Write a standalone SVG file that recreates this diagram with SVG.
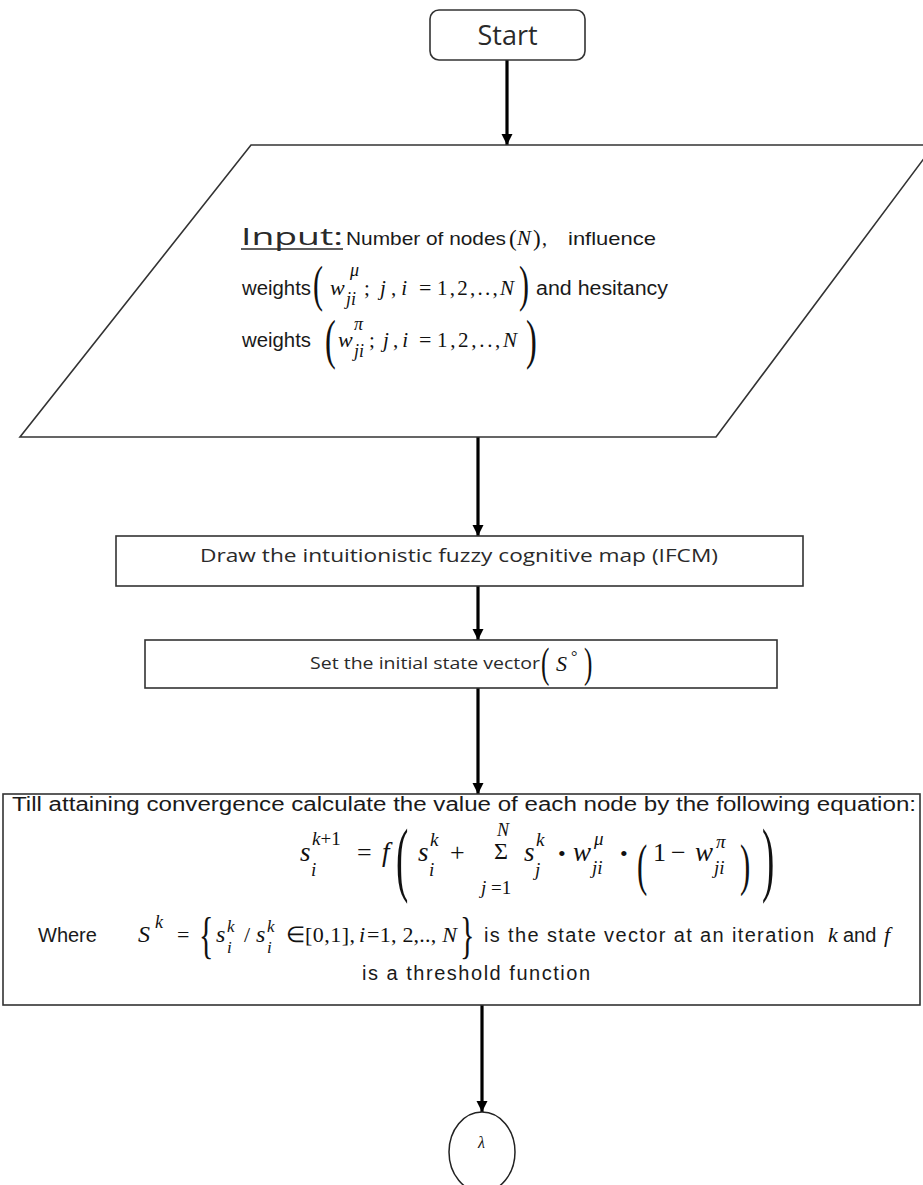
<svg xmlns="http://www.w3.org/2000/svg" width="923" height="1185" viewBox="0 0 923 1185">
<defs>
<style>
.box{fill:#fff;stroke:#333;stroke-width:1.6}
.t{font-family:"Liberation Sans",Arial,sans-serif;fill:#1a1a1a}
.c{font-family:"Open Sans","Liberation Sans",sans-serif;fill:#2a2a2a}
.m{font-family:"Liberation Serif","Times New Roman",serif;font-style:italic;fill:#111}
.r{font-family:"Liberation Serif","Times New Roman",serif;fill:#111}
.conn line{stroke:#000;stroke-width:3.2}
</style>
<marker id="ah" viewBox="0 0 10 10" refX="10" refY="5" markerWidth="11" markerHeight="13" markerUnits="userSpaceOnUse" orient="auto">
<path d="M0,0 L10,5 L0,10 z" fill="#000"/>
</marker>
</defs>
<rect width="923" height="1185" fill="#fff"/>

<g id="connectors" class="conn">
<line x1="507" y1="60" x2="507" y2="145" marker-end="url(#ah)"/>
<line x1="478" y1="437" x2="478" y2="536" marker-end="url(#ah)"/>
<line x1="478" y1="586" x2="478" y2="640" marker-end="url(#ah)"/>
<line x1="478" y1="688" x2="478" y2="794" marker-end="url(#ah)"/>
<line x1="482" y1="1005" x2="482" y2="1112" marker-end="url(#ah)"/>
</g>

<g id="start">
<rect class="box" x="430" y="10" width="155" height="50" rx="9"/>
<text class="c" x="507.5" y="45" font-size="27" text-anchor="middle">Start</text>
</g>

<g id="input">
<polygon class="box" points="251,145 934,145 716,437 20,437"/>
<text class="c" x="241" y="245" font-size="24" textLength="102" lengthAdjust="spacingAndGlyphs">Input:</text>
<line x1="241" y1="249" x2="343" y2="249" stroke="#2a2a2a" stroke-width="1.5"/>
<text class="t" x="346" y="245" font-size="19" textLength="160" lengthAdjust="spacingAndGlyphs">Number of nodes</text>
<text class="r" x="509" y="246" font-size="23">(</text>
<text class="m" x="517" y="245" font-size="21">N</text>
<text class="r" x="533" y="246" font-size="23">)</text>
<text class="r" x="542" y="245" font-size="20">,</text>
<text class="t" x="568" y="245" font-size="19" textLength="88" lengthAdjust="spacingAndGlyphs">influence</text>

<text class="t" x="242" y="295" font-size="20" textLength="69" lengthAdjust="spacingAndGlyphs">weights</text>
<text class="r" font-size="50" transform="translate(313,301) scale(0.6,1)">(</text>
<text class="m" x="330" y="295" font-size="22">w</text>
<text class="m" x="350" y="276" font-size="18">μ</text>
<text class="m" x="346" y="305" font-size="18">ji</text>
<text class="r" x="364" y="295" font-size="21">;</text>
<text class="m" x="380" y="295" font-size="21" textLength="27" lengthAdjust="spacing">j<tspan class="r" font-style="normal">,</tspan>i</text>
<text class="r" x="419" y="295" font-size="22">=</text>
<text class="r" x="437" y="295" font-size="21" textLength="77" lengthAdjust="spacing">1,2,..,<tspan class="m">N</tspan></text>
<text class="r" font-size="50" transform="translate(519,301) scale(0.6,1)">)</text>
<text class="t" x="536" y="295" font-size="20" textLength="132" lengthAdjust="spacingAndGlyphs">and hesitancy</text>

<text class="t" x="242" y="347" font-size="20" textLength="69" lengthAdjust="spacingAndGlyphs">weights</text>
<text class="r" font-size="54" transform="translate(325,358) scale(0.6,1)">(</text>
<text class="m" x="338" y="347" font-size="22">w</text>
<text class="m" x="354" y="330" font-size="18">π</text>
<text class="m" x="354" y="357" font-size="18">ji</text>
<text class="r" x="369" y="347" font-size="21">;</text>
<text class="m" x="383" y="347" font-size="21" textLength="25" lengthAdjust="spacing">j<tspan class="r" font-style="normal">,</tspan>i</text>
<text class="r" x="419" y="347" font-size="22">=</text>
<text class="r" x="437" y="347" font-size="21" textLength="80" lengthAdjust="spacing">1,2,..,<tspan class="m">N</tspan></text>
<text class="r" font-size="54" transform="translate(526,358) scale(0.6,1)">)</text>
</g>

<g id="draw">
<rect class="box" x="116" y="536" width="687" height="50"/>
<text class="c" x="200" y="562" font-size="18" textLength="518" lengthAdjust="spacingAndGlyphs">Draw the intuitionistic fuzzy cognitive map (IFCM)</text>
</g>

<g id="set">
<rect class="box" x="145" y="640" width="632" height="48"/>
<text class="c" x="310" y="669" font-size="17" textLength="230" lengthAdjust="spacingAndGlyphs">Set the initial state vector</text>
<text class="r" font-size="42" transform="translate(541,677) scale(0.6,1)">(</text>
<text class="m" x="556" y="671" font-size="22">S</text>
<text class="r" x="571" y="662" font-size="16">°</text>
<text class="r" font-size="42" transform="translate(584,677) scale(0.6,1)">)</text>
</g>

<g id="iterate">
<rect class="box" x="3" y="794" width="917" height="211"/>
<text class="t" x="12" y="811" font-size="20" textLength="904" lengthAdjust="spacingAndGlyphs">Till attaining convergence calculate the value of each node by the following equation:</text>

<text class="m" x="300" y="861" font-size="27">s</text>
<text class="m" x="312" y="845" font-size="19">k<tspan class="r" font-style="normal">+1</tspan></text>
<text class="m" x="311" y="876" font-size="19">i</text>
<text class="r" x="357" y="861" font-size="26">=</text>
<text class="m" x="382" y="861" font-size="27">f</text>
<text class="r" font-size="82" transform="translate(396,886) scale(0.45,1)">(</text>
<text class="m" x="418" y="861" font-size="27">s</text>
<text class="m" x="430" y="846" font-size="19">k</text>
<text class="m" x="429" y="876" font-size="19">i</text>
<text class="r" x="450" y="861" font-size="26">+</text>
<text class="m" x="497" y="836" font-size="18">N</text>
<text class="r" x="494" y="859" font-size="24">Σ</text>
<text class="m" x="481" y="894" font-size="19">j<tspan class="r" font-style="normal"> =1</tspan></text>
<text class="m" x="524" y="861" font-size="27">s</text>
<text class="m" x="536" y="846" font-size="19">k</text>
<text class="m" x="535" y="876" font-size="19">j</text>
<text class="r" x="558" y="861" font-size="22">•</text>
<text class="m" x="573" y="861" font-size="27">w</text>
<text class="m" x="594" y="845" font-size="19">μ</text>
<text class="m" x="592" y="874" font-size="19">ji</text>
<text class="r" x="620" y="861" font-size="22">•</text>
<text class="r" font-size="56" transform="translate(637,884) scale(0.55,1)">(</text>
<text class="r" x="653" y="861" font-size="26">1</text>
<text class="r" x="671" y="861" font-size="26">−</text>
<text class="m" x="695" y="861" font-size="27">w</text>
<text class="m" x="716" y="848" font-size="19">π</text>
<text class="m" x="714" y="874" font-size="19">ji</text>
<text class="r" font-size="56" transform="translate(740,884) scale(0.55,1)">)</text>
<text class="r" font-size="82" transform="translate(762,886) scale(0.45,1)">)</text>

<text class="t" x="38" y="942" font-size="20">Where</text>
<text class="m" x="138" y="942" font-size="24">S</text>
<text class="m" x="155" y="928" font-size="18">k</text>
<text class="r" x="177" y="942" font-size="22">=</text>
<text class="r" font-size="50" transform="translate(199,952) scale(0.6,1)">{</text>
<text class="m" x="216" y="942" font-size="24">s</text>
<text class="m" x="227" y="932" font-size="17">k</text>
<text class="m" x="227" y="953" font-size="17">i</text>
<text class="r" x="244" y="942" font-size="22">/</text>
<text class="m" x="256" y="942" font-size="24">s</text>
<text class="m" x="267" y="932" font-size="17">k</text>
<text class="m" x="267" y="953" font-size="17">i</text>
<text class="r" x="286" y="942" font-size="22">∈</text>
<text class="r" x="305" y="942" font-size="22" textLength="50" lengthAdjust="spacing">[0,1],</text>
<text class="m" x="359" y="942" font-size="22">i</text>
<text class="r" x="367" y="942" font-size="22" textLength="90" lengthAdjust="spacing">=1, 2,.., <tspan class="m">N</tspan></text>
<text class="r" font-size="50" transform="translate(460,952) scale(0.6,1)">}</text>
<text class="t" x="484" y="942" font-size="20" textLength="330" lengthAdjust="spacing">is the state vector at an iteration</text>
<text class="m" x="828" y="942" font-size="22">k</text>
<text class="t" x="843" y="942" font-size="20">and</text>
<text class="m" x="884" y="942" font-size="22">f</text>

<text class="t" x="362" y="980" font-size="20" textLength="228" lengthAdjust="spacing">is a threshold function</text>
</g>

<g id="end">
<ellipse cx="482" cy="1152" rx="33" ry="40" fill="#fff" stroke="#222" stroke-width="1.5"/>
<text class="m" x="478" y="1148" font-size="16" fill="#555">λ</text>
</g>
</svg>
